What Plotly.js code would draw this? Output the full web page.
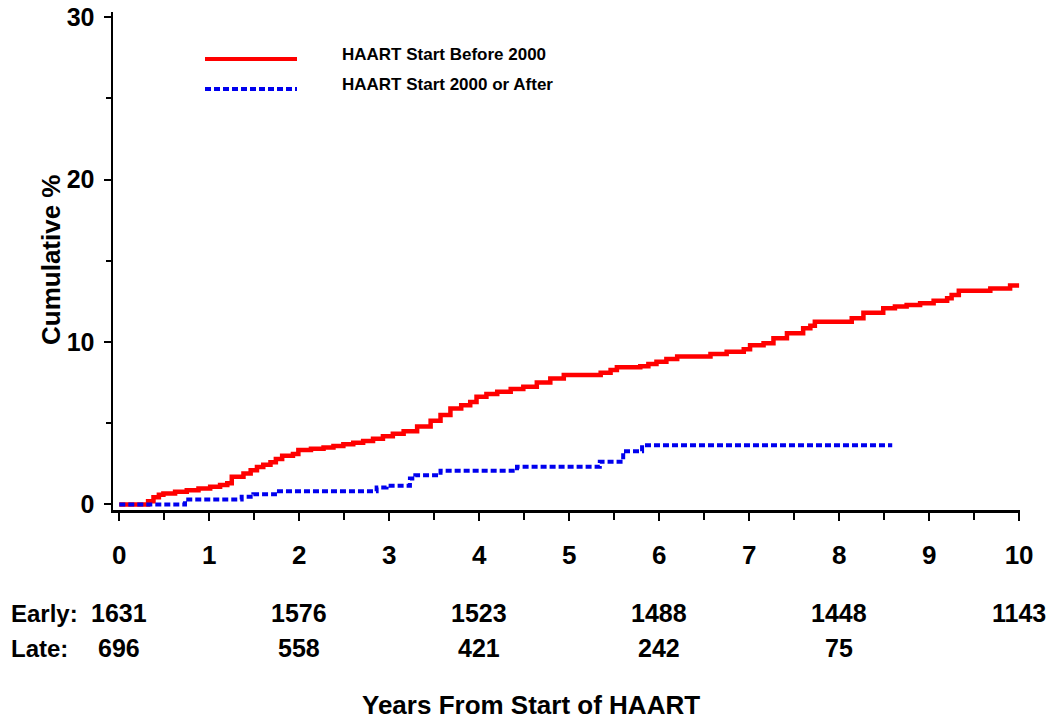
<!DOCTYPE html>
<html>
<head>
<meta charset="utf-8">
<script src="https://cdn.plot.ly/plotly-3.0.1.min.js"></script>
<style>html,body{margin:0;padding:0;background:#fff;}#chart{width:1050px;height:719px;}</style>
</head>
<body>
<div id="chart"></div>
<script>
// ---- data ----
const earlyYears = [0,0.27,0.32,0.38,0.44,0.49,0.62,0.75,0.88,1.01,1.12,1.2,1.25,1.38,1.46,1.53,1.6,1.68,1.74,1.81,1.93,1.99,2.13,2.27,2.38,2.49,2.6,2.71,2.82,2.93,3.04,3.16,3.31,3.46,3.57,3.68,3.8,3.9,3.97,4.08,4.2,4.35,4.49,4.64,4.79,4.94,5.35,5.46,5.53,5.79,5.88,5.97,6.08,6.2,6.57,6.75,6.94,7.01,7.16,7.27,7.42,7.6,7.68,7.73,8.14,8.27,8.49,8.62,8.75,8.9,9.05,9.2,9.25,9.33,9.68,9.9,10.0];
const earlyPct   = [0,0,0.2,0.45,0.6,0.68,0.78,0.88,0.98,1.09,1.2,1.3,1.71,1.91,2.1,2.3,2.45,2.6,2.8,3.0,3.1,3.36,3.43,3.5,3.6,3.7,3.8,3.9,4.05,4.2,4.35,4.5,4.8,5.15,5.5,5.9,6.1,6.3,6.63,6.8,6.94,7.1,7.25,7.5,7.76,7.97,8.1,8.27,8.44,8.5,8.65,8.79,8.95,9.1,9.26,9.4,9.55,9.8,9.92,10.23,10.54,10.84,11.0,11.25,11.46,11.8,12.07,12.18,12.28,12.38,12.54,12.69,12.9,13.16,13.3,13.47,13.47];
const lateYears = [0,0.73,1.36,1.49,1.73,2.86,2.97,3.23,3.29,3.57,4.42,5.34,5.6,5.81,8.59];
const latePct   = [0,0.31,0.47,0.63,0.82,1.05,1.15,1.6,1.8,2.07,2.32,2.63,3.28,3.65,3.65];
const seriesNames = ["HAART Start Before 2000", "HAART Start 2000 or After"];
const riskYears = [0,2,4,6,8,10];
const riskEarly = [1631,1576,1523,1488,1448,1143];
const riskLate  = [696,558,421,242,75];
const rowLabels = ["Early:", "Late:"];
const xTitle = "Years From Start of HAART";
const yTitle = "Cumulative %";

// ---- layout helpers ----
const L = 113, R = 1020, T = 12, B = 510, W = 1050, H = 719;
const px = x => (x - L) / (R - L);
const py = y => (B - y) / (B - T);
const FONT = "Liberation Sans, Arial, sans-serif";

const traces = [
  {x: earlyYears, y: earlyPct, mode: "lines", line: {shape: "hv", color: "#ff0000", width: 4.5}, name: seriesNames[0], showlegend: false},
  {x: lateYears, y: latePct, mode: "lines", line: {shape: "hv", color: "#0000ee", width: 4, dash: "6px,3px"}, name: seriesNames[1], showlegend: false}
];

const annotations = [];
const shapes = [];
// legend
const legY = [59, 89], legTextY = [54, 84];
const legColors = ["#ff0000", "#0000ee"], legDash = ["solid", "6px,3px"];
for (let i = 0; i < 2; i++) {
  shapes.push({type: "line", xref: "paper", yref: "paper", x0: px(205), x1: px(297), y0: py(legY[i]), y1: py(legY[i]),
    line: {color: legColors[i], width: 4, dash: legDash[i]}});
  annotations.push({xref: "paper", yref: "paper", x: px(340), y: py(legTextY[i]), xanchor: "left", yanchor: "middle",
    text: seriesNames[i], showarrow: false, font: {family: FONT, size: 17, weight: "bold", color: "#000"}});
}
// at-risk table
const rowY = [613, 648];
const rows = [riskEarly, riskLate];
for (let r = 0; r < 2; r++) {
  annotations.push({xref: "paper", yref: "paper", x: px(9), y: py(rowY[r]), xanchor: "left", yanchor: "middle",
    text: rowLabels[r], showarrow: false, font: {family: FONT, size: 24, weight: "bold", color: "#000"}});
  rows[r].forEach((v, i) => {
    annotations.push({xref: "x", yref: "paper", x: riskYears[i], y: py(rowY[r]), xanchor: "center", yanchor: "middle",
      text: String(v), showarrow: false, font: {family: FONT, size: 25, weight: "bold", color: "#000"}});
  });
}
// axis titles
annotations.push({xref: "paper", yref: "paper", x: px(531), y: py(705), xanchor: "center", yanchor: "middle",
  text: xTitle, showarrow: false, font: {family: FONT, size: 26, weight: "bold", color: "#000"}});
annotations.push({xref: "paper", yref: "paper", x: px(51), y: py(260), xanchor: "center", yanchor: "middle", textangle: -90,
  text: yTitle, showarrow: false, font: {family: FONT, size: 26, weight: "bold", color: "#000"}});

const layout = {
  width: W, height: H,
  margin: {l: L, r: W - R, t: T, b: H - B, pad: 0},
  paper_bgcolor: "#fff", plot_bgcolor: "#fff",
  showlegend: false,
  xaxis: {
    range: [-0.07, 10.01], tickmode: "array", tickvals: [0,1,2,3,4,5,6,7,8,9,10],
    showline: true, linecolor: "#000", linewidth: 2.5, mirror: false,
    ticks: "outside", ticklen: 8, tickwidth: 2, tickcolor: "#000",
    minor: {dtick: 0.5, tick0: 0, ticks: "outside", ticklen: 7, tickwidth: 2, tickcolor: "#000"},
    showgrid: false, zeroline: false,
    ticklabelstandoff: 12,
    tickfont: {family: FONT, size: 26, weight: "bold", color: "#000"}
  },
  yaxis: {
    range: [-0.34, 30.31], tickmode: "array", tickvals: [0,10,20,30],
    showline: true, linecolor: "#000", linewidth: 2.5,
    ticks: "outside", ticklen: 7, tickwidth: 2, tickcolor: "#000",
    minor: {dtick: 5, tick0: 0, ticks: "outside", ticklen: 5, tickwidth: 2, tickcolor: "#000"},
    showgrid: false, zeroline: false,
    ticklabelstandoff: 4,
    tickfont: {family: FONT, size: 25, weight: "bold", color: "#000"}
  },
  shapes: shapes,
  annotations: annotations
};

Plotly.newPlot("chart", traces, layout, {staticPlot: true, displayModeBar: false});
</script>
</body>
</html>
